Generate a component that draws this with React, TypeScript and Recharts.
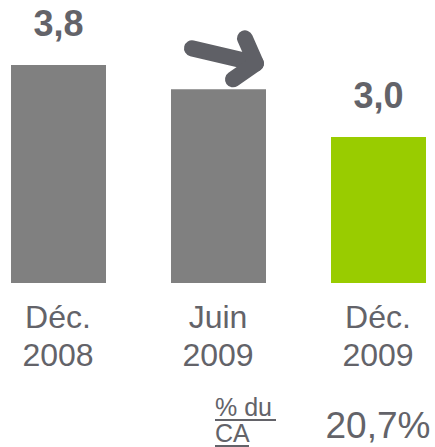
import { BarChart, Bar, XAxis, YAxis, Cell, LabelList } from 'recharts'

const periods = ['Déc.|2008', 'Juin|2009', 'Déc.|2009']
const values = [3.8, 3.53, 3.0]
const barColors = ['#808080', '#808080', '#99cc00']
const shareHeader = ['% du', 'CA']
const shareOfSales = ['', '', '20,7%']

const data = periods.map((p, i) => ({ period: p, value: values[i] }))

const TEXT = '#636369'
const FONT = '"Liberation Sans", Arial, sans-serif'

function PeriodTick(props: any) {
  const { x, y, payload } = props
  const [l1, l2] = String(payload.value).split('|')
  const i = payload.index
  return (
    <g fontFamily={FONT} fill={TEXT}>
      <text x={x} y={y + 45} textAnchor="middle" fontSize={32}>{l1}</text>
      <text x={x} y={y + 83} textAnchor="middle" fontSize={32}>{l2}</text>
      {i === 1 && (
        <g fontSize={25}>
          <text x={x - 3} y={y + 133}>{shareHeader[0]}</text>
          <line x1={x - 3} x2={x + 58} y1={y + 137} y2={y + 137} stroke={TEXT} strokeWidth={2} />
          <text x={x - 3} y={y + 159}>{shareHeader[1]}</text>
          <line x1={x - 3} x2={x + 31} y1={y + 163} y2={y + 163} stroke={TEXT} strokeWidth={2} />
        </g>
      )}
      {shareOfSales[i] && (
        <text x={x} y={y + 155} textAnchor="middle" fontSize={37}>{shareOfSales[i]}</text>
      )}
    </g>
  )
}

function ValueLabel(props: any) {
  const { x, y, width, value, index } = props
  const cx = x + width / 2
  if (index === 1) {
    // downward trend arrow above the middle bar
    return (
      <g stroke="#5f6066" strokeWidth={16} strokeLinecap="round" strokeLinejoin="round" fill="none">
        <line x1={x + 21} y1={y - 41} x2={x + 85} y2={y - 26} />
        <polyline points={`${x + 74},${y - 51} ${x + 85},${y - 26} ${x + 62},${y - 10}`} />
      </g>
    )
  }
  return (
    <text x={cx} y={y - 29} textAnchor="middle" fontFamily={FONT} fontWeight="bold" fontSize={36} fill={TEXT}>
      {Number(value).toFixed(1).replace('.', ',')}
    </text>
  )
}

export default function App() {
  return (
    <div style={{ position: 'absolute', left: 0, top: 0, width: 435, height: 447, background: '#fff' }}>
      <BarChart width={435} height={447} data={data} margin={{ top: 2, right: -23, left: -22, bottom: 0 }}>
        <XAxis dataKey="period" axisLine={false} tickLine={false} tickSize={0} tickMargin={0} height={164} interval={0} tick={<PeriodTick />} />
        <YAxis hide domain={[1.38, 4.5]} />
        <Bar dataKey="value" barSize={95} isAnimationActive={false}>
          {data.map((d, i) => <Cell key={d.period} fill={barColors[i]} />)}
          <LabelList dataKey="value" content={<ValueLabel />} />
        </Bar>
      </BarChart>
    </div>
  )
}
